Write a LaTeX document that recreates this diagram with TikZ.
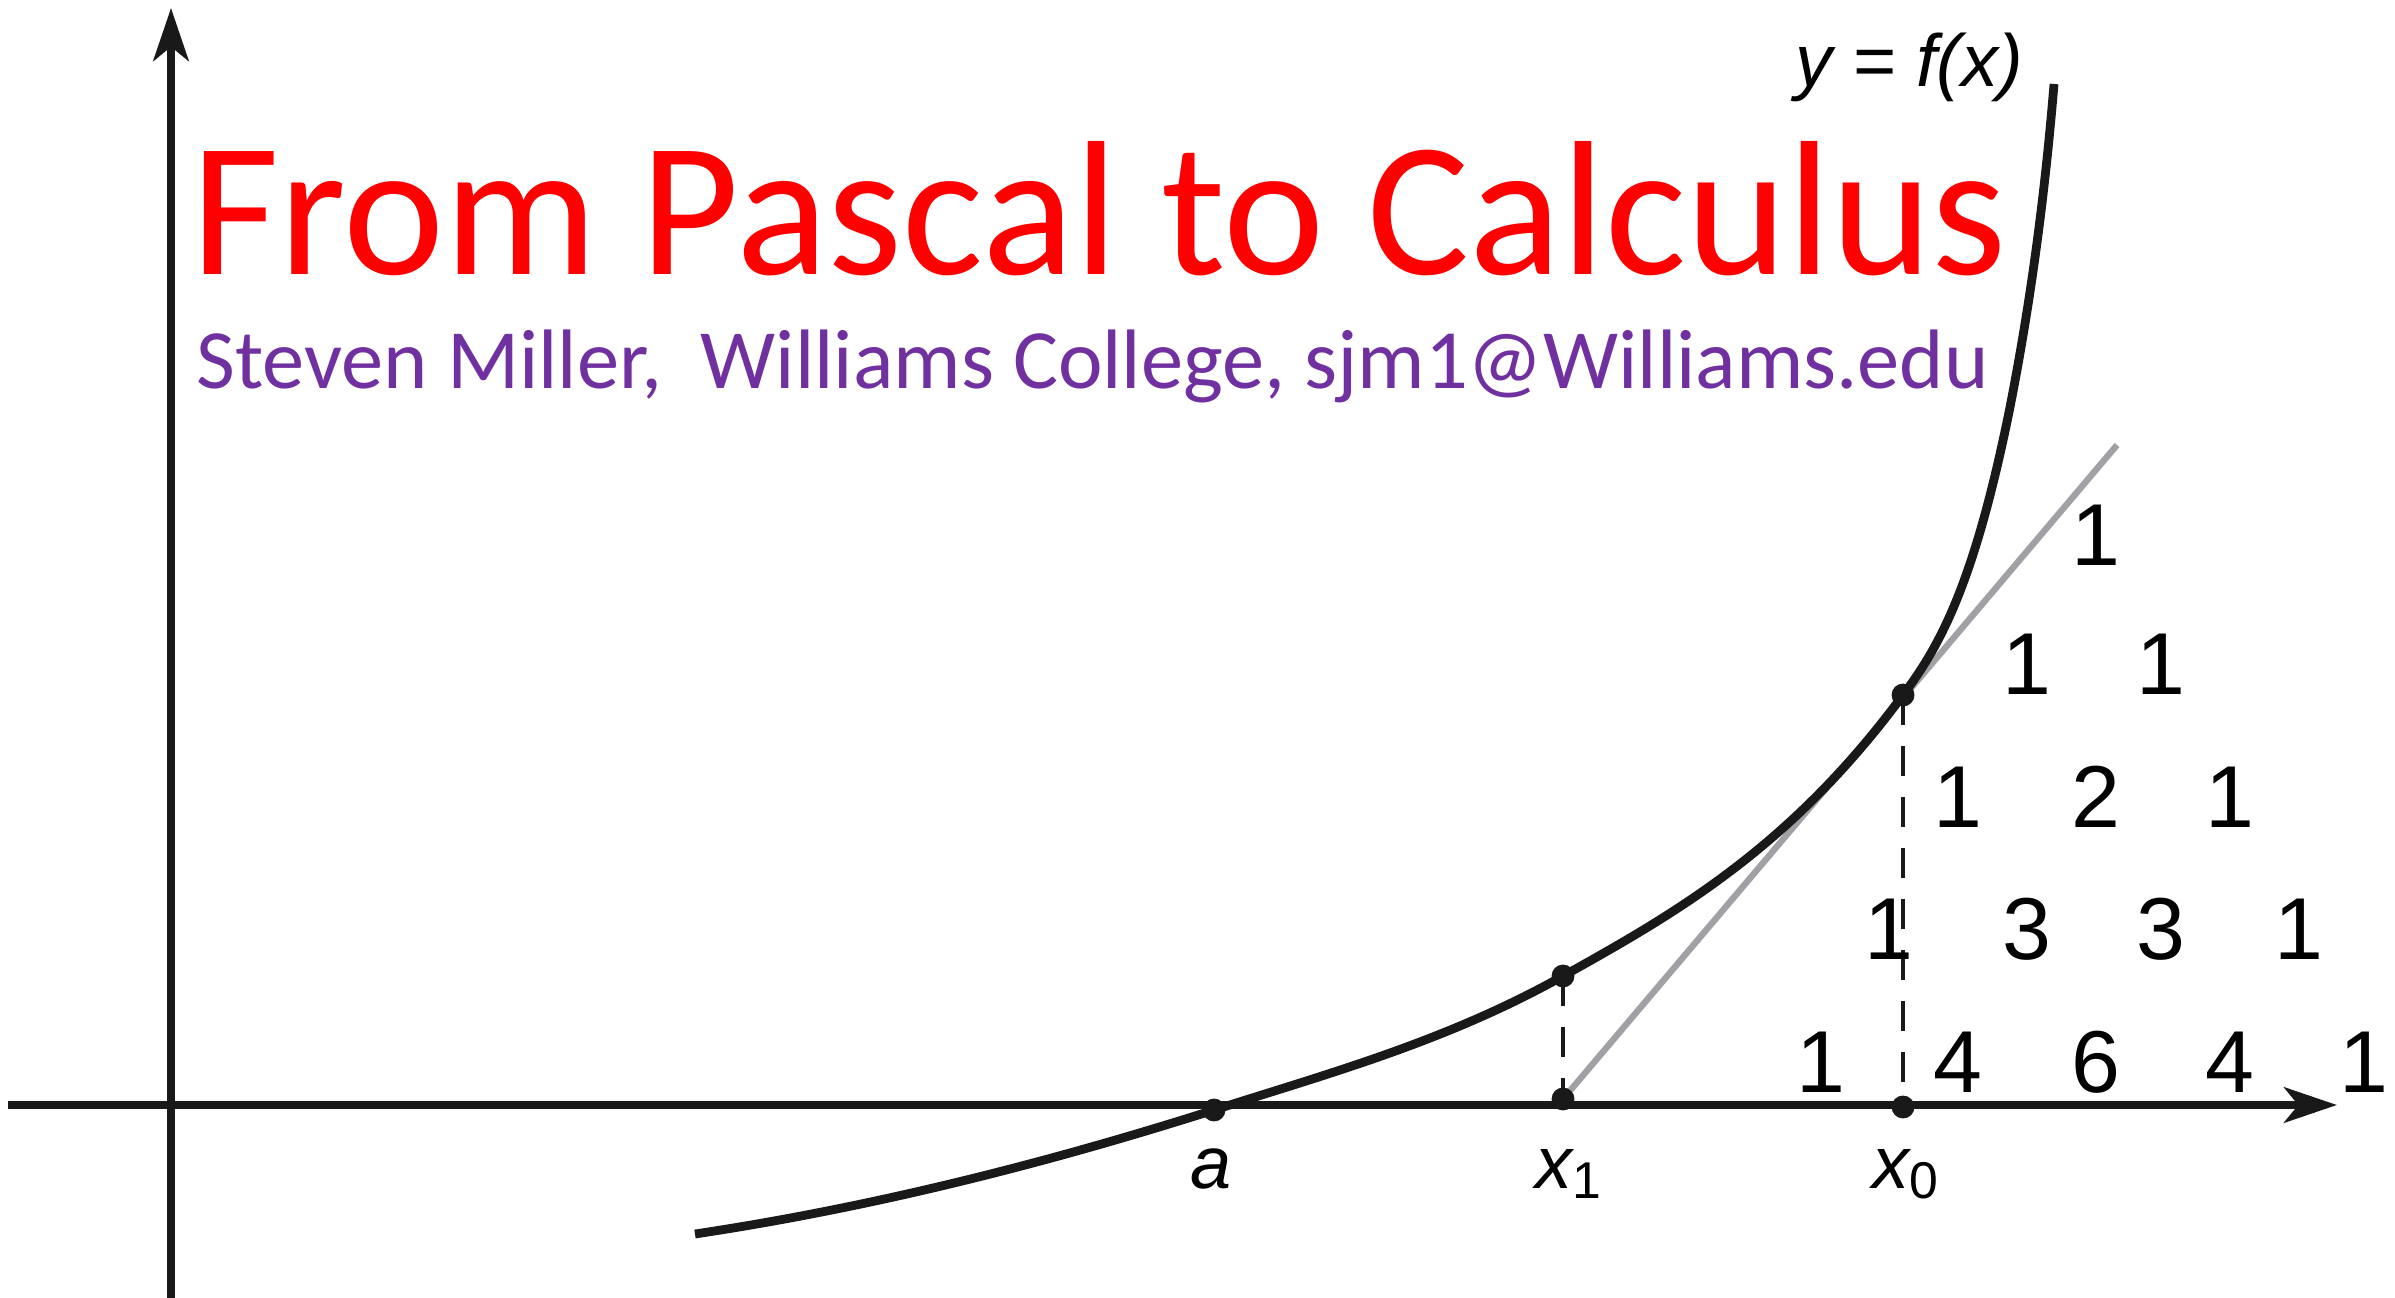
\documentclass[tikz,border=0pt]{standalone}
\usepackage{fontspec}
\setmainfont{Liberation Sans}
\newfontfamily\titlefont{Carlito}
\usetikzlibrary{arrows.meta}
\definecolor{titlered}{RGB}{255, 0, 0}
\definecolor{authorpurple}{RGB}{112, 48, 160}
\definecolor{tangentgray}{RGB}{160, 160, 165}

\begin{document}
\begin{tikzpicture}[x=0.01cm, y=-0.01cm,
    dot/.style={circle, fill=black!90, inner sep=0pt, minimum size=6.5pt},
    num/.style={font=\fontsize{25}{25}\selectfont, inner sep=0pt},
    lbl/.style={font=\fontsize{21}{21}\selectfont\itshape, inner sep=0pt, anchor=base},
    axis/.style={line width=2.5pt, black!90, -{Stealth[length=15pt, width=10pt, inset=4pt]}},
    dropline/.style={black!90, line width=1.3pt, dash pattern=on 8.5pt off 6pt}]
        \useasboundingbox (0,0) rectangle (2395,1298);

        % axes
        \draw[axis] (171,1298) -- (171,8);
        \draw[axis] (8,1105) -- (2337,1105);

        % points on the curve and on the axis
        \coordinate (fstart) at (695,1234);
        \coordinate (a) at (1214,1110);
        \coordinate (x1c) at (1563,976);
        \coordinate (x0c) at (1903,695);
        \coordinate (fmid) at (2010,407);
        \coordinate (ftop) at (2054,84);
        \coordinate (x1) at (1563,1099);
        \coordinate (x0) at (1903,1107);
        \coordinate (tanend) at (2117,445);

        % tangent and drop lines
        \draw[tangentgray, line width=1.8pt] (x1) -- (tanend);
        \draw[dropline] (x1c) -- (x1);
        \draw[dropline] (x0c) -- (x0);

        % y = f(x)
        \draw[black!90, line width=2.5pt] (fstart)
            .. controls (868,1208) and (1041,1165) .. (a)
            .. controls (1330,1073) and (1447,1041) .. (x1c)
            .. controls (1676,913) and (1790,848) .. (x0c)
            .. controls (1939,647) and (1974,586) .. (fmid)
            .. controls (2031,300) and (2045,193) .. (ftop);

        \node[dot] (adot) at (a) {};
        \node[dot] (x1cdot) at (x1c) {};
        \node[dot] (x0cdot) at (x0c) {};
        \node[dot] (x1dot) at (x1) {};
        \node[dot] (x0dot) at (x0) {};

        % labels
        \node[lbl] (fx) at (1909,87) {y = f(x)};
        \node[lbl] (alab) at (1211,1188) {a};
        \node[lbl] (x1lab) at (1569,1188) {x\textsubscript{\upshape 1}};
        \node[lbl] (x0lab) at (1906,1188) {x\textsubscript{\upshape 0}};

        % title
        \node[anchor=base west, inner sep=0pt, text=titlered, font=\titlefont\fontsize{54.5}{54.5}\selectfont] (title) at (191,275) {From Pascal to Calculus};
        \node[anchor=base west, inner sep=0pt, text=authorpurple, font=\titlefont\fontsize{24}{24}\selectfont] (author) at (196,389) {Steven Miller,\ \ Williams College, sjm1@Williams.edu};

        % Pascal
        \node[num] (p00) at (2096,535) {1};
        \node[num] (p10) at (2027,664) {1};
        \node[num] (p11) at (2161,664) {1};
        \node[num] (p20) at (1958,797) {1};
        \node[num] (p21) at (2096,797) {2};
        \node[num] (p22) at (2230,797) {1};
        \node[num] (p30) at (1889,929) {1};
        \node[num] (p31) at (2027,929) {3};
        \node[num] (p32) at (2161,929) {3};
        \node[num] (p33) at (2299,929) {1};
        \node[num] (p40) at (1821,1062) {1};
        \node[num] (p41) at (1958,1062) {4};
        \node[num] (p42) at (2096,1062) {6};
        \node[num] (p43) at (2230,1062) {4};
        \node[num] (p44) at (2364,1062) {1};
      \end{tikzpicture}
\end{document}
